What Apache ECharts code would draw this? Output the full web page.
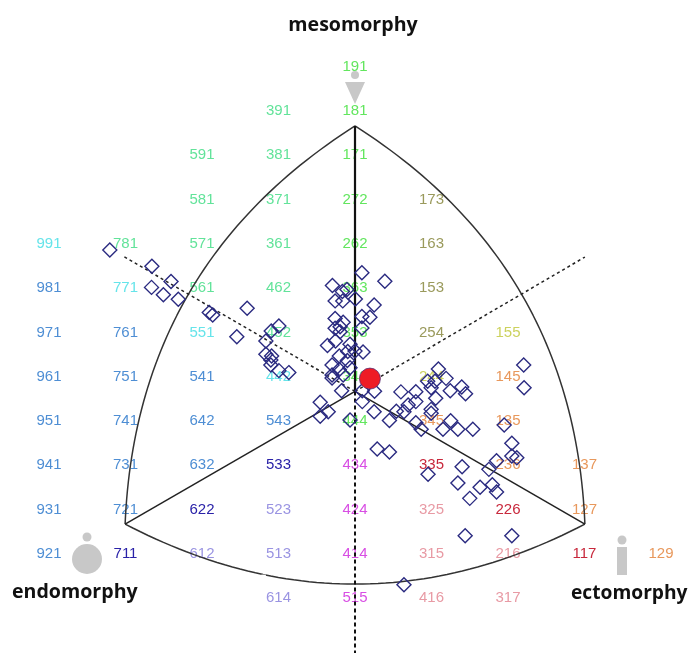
<!DOCTYPE html>
<html><head><meta charset="utf-8">
<style>html,body{margin:0;padding:0;background:#fff}#c{width:691px;height:653px}</style>
<script src="https://cdn.jsdelivr.net/npm/echarts@6/dist/echarts.min.js"></script>
</head><body><div id="c"></div>
<script>
// Somatotype codes (endo, meso, ecto), grouped by printed colour
const codesCyan = ['991','771','551','442'];
const codesMint = ['781','591','581','571','561','391','381','371','361','462','452'];
const codesGreen = ['191','181','171','272','262','363','353','343','444'];
const codesOlive = ['173','163','153','254'];
const codesYellow = ['155','244'];
const codesOrange = ['145','135','137','127','129','236','345'];
const codesBlue = ['981','971','961','951','941','931','921','761','751','741','731','721','541','642','632','543'];
const codesNavy = ['711','622','533'];
const codesLilac = ['612','523','513','614'];
const codesMagenta = ['434','424','414','515'];
const codesPink = ['325','315','416','317','216'];
const codesRed = ['335','226','117'];

// Subjects: X = ecto - endo, Y = 2*meso - endo - ecto
const subjects = [
[-6.41,7.68],[-5.31,6.94],[-4.81,6.26],[-5.32,5.99],[-5.01,5.66],[-4.62,5.45],[-3.81,4.86],[-3.72,4.74],
[-2.82,5.05],[-3.09,3.76],[-1.99,4.25],[-2.19,4.02],[-2.33,3.57],[-2.33,2.97],[-2.18,2.89],[-2.20,2.71],
[-2.20,2.48],[-1.99,2.23],[-1.73,2.14],[-0.59,6.07],[-0.33,5.80],[-0.21,5.89],[-0.52,5.38],[-0.32,5.38],
[-0.52,4.58],[-0.52,4.14],[-0.39,4.21],[-0.39,3.99],[-0.31,4.41],[-0.72,3.37],[-0.51,3.57],[-0.41,2.89],
[-0.60,2.48],[-0.41,2.28],[-0.60,2.03],[-0.60,1.90],[-0.35,1.32],[-0.91,0.80],[-0.70,0.37],[-0.91,0.17],
[0.18,6.65],[0.78,6.27],[0.01,5.46],[0.50,5.19],[0.18,4.67],[0.39,4.64],[0.18,4.16],[-0.13,3.42],
[0.00,3.12],[-0.19,3.09],[0.21,3.07],[-0.20,2.69],[-0.13,2.36],[-0.31,2.03],[0.19,1.32],[0.51,1.30],
[1.20,1.27],[0.19,0.83],[-0.13,0.00],[0.50,0.37],[1.08,0.39],[1.28,0.37],[0.90,-0.02],[1.39,0.68],
[1.59,1.28],[1.59,0.83],[2.18,2.30],[1.90,1.75],[2.09,1.75],[2.38,1.88],[1.99,1.46],[2.79,1.49],
[2.89,1.19],[2.49,1.32],[2.11,0.98],[1.99,0.48],[1.99,0.30],[1.59,-0.12],[1.73,-0.42],[2.30,-0.42],
[2.50,-0.03],[2.69,-0.42],[3.08,-0.42],[3.90,-0.23],[4.41,2.48],[4.42,1.46],[4.10,-1.05],[4.10,-1.63],
[4.23,-1.70],[3.70,-1.84],[3.50,-2.23],[2.80,-2.11],[1.91,-2.45],[0.58,-1.31],[0.90,-1.45],[2.69,-2.85],
[3.27,-3.04],[3.59,-2.92],[3.70,-3.25],[3.00,-3.54],[2.88,-5.23],[4.10,-5.23],[1.28,-7.44]
];
const groupMean = [[0.39,1.87]];

// Frame of the chart
const apex = [0,13.28], leftCorner = [-6.01,-4.70], rightCorner = [6.01,-4.70], centre = [0,1.29];
const ctrlLeft = [-5.73,7.0], ctrlRight = [5.73,7.0], ctrlBottom = [0,-10.12];
const dashDown = [0,-10.6], dashLeft = [-6.06,7.4], dashRight = [6.01,7.36];
const arcGap = [[-2.45,-7.05],[-2.33,-7.05]];

function quad(a,c,b){const p=[];for(let i=0;i<=60;i++){const t=i/60,u=1-t;p.push([u*u*a[0]+2*u*t*c[0]+t*t*b[0],u*u*a[1]+2*u*t*c[1]+t*t*b[1]]);}return p;}
function place(code){const [a,b,c]=code.split('').map(Number);return {value:[c-a,2*b-a-c],code};}
const LABEL_FONT='"Liberation Sans",Arial,sans-serif';
function labelSeries(codes,color){return {type:'scatter',symbolSize:0,z:1,silent:true,data:codes.map(place),itemStyle:{opacity:1},
  label:{show:true,position:'inside',offset:[0,1],opacity:1,formatter:p=>p.data.code,color,fontFamily:LABEL_FONT,fontSize:15}};}
function lineSeries(pts,w,color,type,z){return {type:'line',data:pts,showSymbol:false,symbol:'none',silent:true,z:z||3,
  lineStyle:{width:w,color,type:type||'solid',cap:'butt'}};}

const GREY='#c8c8c8';
const TITLE_FONT='"Open Sans","Noto Sans",sans-serif';
const chart=echarts.init(document.getElementById('c'),null,{renderer:'canvas'});
chart.setOption({
  animation:false,
  grid:{left:0,right:0,top:0,bottom:0},
  xAxis:{type:'value',show:false,min:-9.281,max:8.784},
  yAxis:{type:'value',show:false,min:-10.524,max:18.97},
  graphic:[
    {type:'circle',shape:{cx:355,cy:75,r:4},style:{fill:GREY},z:0},
    {type:'polygon',shape:{points:[[345,82],[365,82],[355,104]]},style:{fill:GREY},z:0},
    {type:'circle',shape:{cx:87,cy:537,r:4.5},style:{fill:GREY},z:0},
    {type:'circle',shape:{cx:87,cy:559,r:15},style:{fill:GREY},z:0},
    {type:'circle',shape:{cx:622,cy:540,r:4.5},style:{fill:GREY},z:0},
    {type:'rect',shape:{x:617,y:547,width:10,height:28},style:{fill:GREY},z:0},
    {type:'text',style:{text:'mesomorphy',x:353,y:25,align:'center',verticalAlign:'middle',font:'bold 19.6px '+TITLE_FONT,fill:'#111'},z:5},
    {type:'text',style:{text:'endomorphy',x:12,y:592,align:'left',verticalAlign:'middle',font:'bold 19.6px '+TITLE_FONT,fill:'#111'},z:5},
    {type:'text',style:{text:'ectomorphy',x:571,y:594,align:'left',verticalAlign:'middle',font:'bold 19.2px '+TITLE_FONT,fill:'#111'},z:5}
  ],
  series:[
    labelSeries(codesCyan,'#66e4ea'),
    labelSeries(codesMint,'#62e39a'),
    labelSeries(codesGreen,'#62e65e'),
    labelSeries(codesOlive,'#9a9a5c'),
    labelSeries(codesYellow,'#ccd25e'),
    labelSeries(codesOrange,'#e8985c'),
    labelSeries(codesBlue,'#4e8ed4'),
    labelSeries(codesNavy,'#2a22a8'),
    labelSeries(codesLilac,'#9a94e2'),
    labelSeries(codesMagenta,'#d84ee4'),
    labelSeries(codesPink,'#e89aa4'),
    labelSeries(codesRed,'#c8283c'),
    lineSeries(quad(apex,ctrlLeft,leftCorner),1.5,'#333'),
    lineSeries(quad(apex,ctrlRight,rightCorner),1.5,'#333'),
    lineSeries(quad(leftCorner,ctrlBottom,rightCorner),1.5,'#333'),
    lineSeries(arcGap,3,'#fff','solid',4),
    lineSeries([apex,centre],2.2,'#111'),
    lineSeries([leftCorner,centre],1.5,'#222'),
    lineSeries([rightCorner,centre],1.5,'#222'),
    lineSeries([centre,dashDown],2,'#111',[4,3]),
    lineSeries([centre,dashLeft],1.5,'#222',[3,3]),
    lineSeries([centre,dashRight],1.5,'#222',[3,3]),
    {type:'scatter',data:subjects,symbol:'diamond',symbolSize:14,z:6,silent:true,
      itemStyle:{color:'rgba(0,0,0,0)',borderColor:'#2a2a80',borderWidth:1.4,opacity:1}},
    {type:'scatter',data:groupMean,symbol:'circle',symbolSize:21,z:7,silent:true,
      itemStyle:{color:'#ee1c25',borderColor:'#5a2a70',borderWidth:0.8,opacity:1}}
  ]
});
</script></body></html>
